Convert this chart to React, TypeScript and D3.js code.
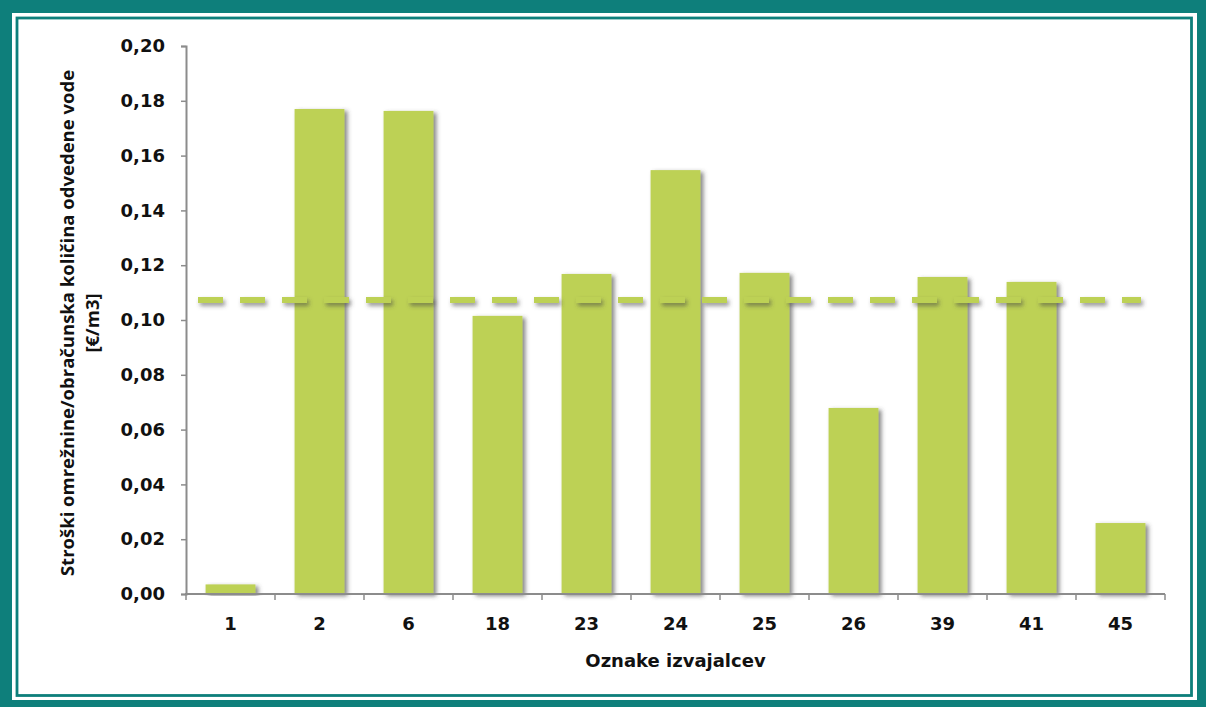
import React, { useEffect, useRef } from "react";
import * as d3 from "d3";

const categories = ["1", "2", "6", "18", "23", "24", "25", "26", "39", "41", "45"];
const values = [0.0035, 0.177, 0.1763, 0.1015, 0.1168, 0.1547, 0.1172, 0.0679, 0.1157, 0.1139, 0.0259];
const averageValue = 0.1073;
const yTicks = [0, 0.02, 0.04, 0.06, 0.08, 0.1, 0.12, 0.14, 0.16, 0.18, 0.2];
const yTitleLines = ["Stroški omrežnine/obračunska količina odvedene vode", "[€/m3]"];
const xTitle = "Oznake izvajalcev";

const W = 1206, H = 707;
const TEAL = "#0E7F7B";
const GREEN = "#BDD154";
const AXIS = "#8C8C8C";

export default function App() {
  const ref = useRef<SVGSVGElement>(null);
  useEffect(() => {
    const svg = d3.select(ref.current);
    svg.selectAll("*").remove();

    const defs = svg.append("defs");
    const f = defs.append("filter").attr("id", "shadow").attr("x", "-20%").attr("y", "-20%").attr("width", "140%").attr("height", "140%");
    f.append("feDropShadow").attr("dx", 3).attr("dy", 2).attr("stdDeviation", 2).attr("flood-color", "#444").attr("flood-opacity", 0.65);
    const f2 = defs.append("filter").attr("id", "lshadow").attr("filterUnits", "userSpaceOnUse")
      .attr("x", 0).attr("y", 0).attr("width", W).attr("height", H);
    f2.append("feDropShadow").attr("dx", 2).attr("dy", 3).attr("stdDeviation", 2).attr("flood-color", "#444").attr("flood-opacity", 0.55);

    // frame
    svg.append("rect").attr("x", 0).attr("y", 0).attr("width", W).attr("height", H).attr("fill", TEAL);
    svg.append("rect").attr("x", 12).attr("y", 13).attr("width", 1197 - 12).attr("height", 700 - 13).attr("fill", "#fff");
    svg.append("rect").attr("x", 17).attr("y", 18).attr("width", 1191.5 - 17).attr("height", 695.5 - 18)
      .attr("fill", "#fff").attr("stroke", TEAL).attr("stroke-width", 2.8);

    const left = 186, right = 1165, top = 46, bottom = 594;
    const x = d3.scaleBand().domain(categories).range([left, right]).paddingInner(0.44).paddingOuter(0.22);
    const xb = d3.scaleBand().domain(categories).range([left, right]);
    const y = d3.scaleLinear().domain([0, 0.2]).range([bottom, top]);

    // bars
    svg.append("g").selectAll("rect").data(values).join("rect")
      .attr("x", (_, i) => x(categories[i])!)
      .attr("width", x.bandwidth())
      .attr("y", d => y(d))
      .attr("height", d => y(0) - y(d))
      .attr("fill", GREEN)
      .attr("filter", "url(#shadow)");

    // average dashed line
    svg.append("line")
      .attr("x1", 198).attr("x2", 1141)
      .attr("y1", y(averageValue)).attr("y2", y(averageValue))
      .attr("stroke", GREEN).attr("stroke-width", 6)
      .attr("stroke-dasharray", "25 17")
      .attr("filter", "url(#lshadow)");

    // y axis
    const yAxis = d3.axisLeft(y).tickValues(yTicks).tickSize(5).tickPadding(16)
      .tickFormat(d => d3.format(".2f")(d as number).replace(".", ","));
    const gy = svg.append("g").attr("transform", `translate(${left},0)`).call(yAxis);
    gy.select(".domain").attr("stroke", AXIS).attr("stroke-width", 2);
    gy.selectAll(".tick line").attr("stroke", AXIS).attr("stroke-width", 1.5);
    gy.selectAll(".tick text").attr("font-family", "DejaVu Sans").attr("font-weight", "bold")
      .attr("font-size", 18).attr("fill", "#111");

    // x axis (ticks between categories)
    const boundaries = categories.map(c => xb(c)!).concat([right]);
    const gx = svg.append("g");
    gx.append("line").attr("x1", left - 1).attr("x2", right).attr("y1", bottom).attr("y2", bottom)
      .attr("stroke", AXIS).attr("stroke-width", 2);
    gx.selectAll("line.t").data(boundaries).join("line").attr("class", "t")
      .attr("x1", d => d).attr("x2", d => d).attr("y1", bottom).attr("y2", bottom + 6)
      .attr("stroke", AXIS).attr("stroke-width", 1.5);
    gx.selectAll("text").data(categories).join("text")
      .attr("x", d => xb(d)! + xb.bandwidth() / 2).attr("y", 630)
      .attr("text-anchor", "middle")
      .attr("font-family", "DejaVu Sans").attr("font-weight", "bold").attr("font-size", 18)
      .attr("fill", "#111").text(d => d);

    // x title
    svg.append("text").attr("x", (left + right) / 2).attr("y", 667).attr("text-anchor", "middle")
      .attr("font-family", "DejaVu Sans").attr("font-weight", "bold").attr("font-size", 18)
      .attr("fill", "#111").text(xTitle);

    // y title
    const yt = svg.append("text").attr("transform", `translate(74,${(top + bottom) / 2 + 3}) rotate(-90)`)
      .attr("text-anchor", "middle").attr("font-family", "Open Sans").attr("font-weight", "bold")
      .attr("font-size", 18.5).attr("fill", "#111");
    yTitleLines.forEach((t, i) => {
      yt.append("tspan").attr("x", 0).attr("dy", i === 0 ? 0 : 25).text(t);
    });
  }, []);
  return (
    <svg ref={ref} width={W} height={H} style={{ position: "absolute", left: 0, top: 0, display: "block" }} />
  );
}
